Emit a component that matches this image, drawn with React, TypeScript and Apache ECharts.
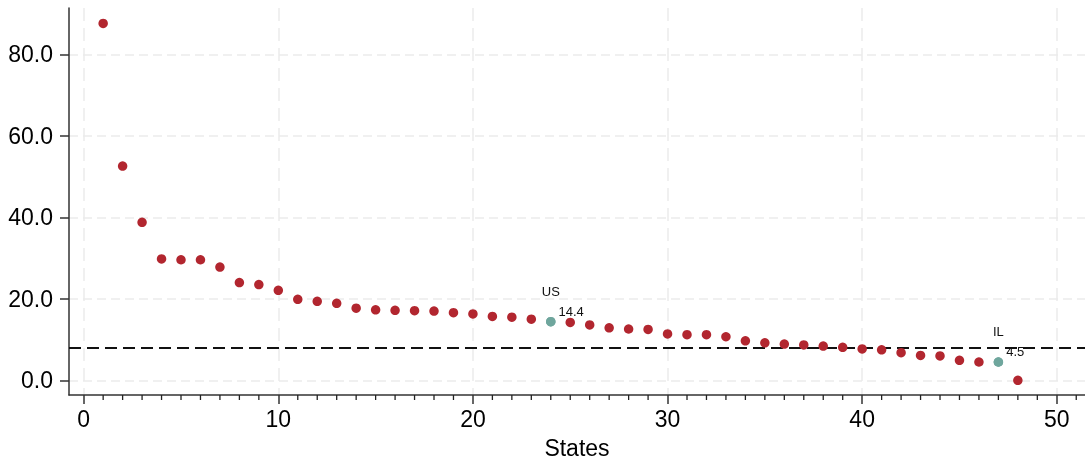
import React, { useEffect, useRef } from "react";
import * as echarts from "echarts";

// Values by state rank (1..48)
const rates: number[] = [
  87.6, 52.6, 38.8, 29.8, 29.6, 29.6, 27.8, 24.0, 23.5, 22.1,
  19.9, 19.4, 18.9, 17.7, 17.3, 17.2, 17.1, 17.0, 16.6, 16.3,
  15.7, 15.5, 15.0, 14.4, 14.2, 13.6, 12.9, 12.6, 12.5, 11.4,
  11.2, 11.2, 10.7, 9.7, 9.2, 8.9, 8.7, 8.4, 8.1, 7.7,
  7.5, 6.8, 6.1, 6.0, 4.9, 4.5, 4.5, 0.0,
];
const highlightRanks: number[] = [24, 47];
const highlightNames: string[] = ["US", "IL"];
const benchmark = 8.0;
const xTicks: number[] = [0, 10, 20, 30, 40, 50];
const yTicks: number[] = [0, 20, 40, 60, 80];
const xTitle = "States";

const RED = "#B2262F";
const TEAL = "#6FA69D";
const GRID = "#EBEBEB";
const AXIS = "#333333";
const FONT = "'Liberation Sans', Arial, sans-serif";

export default function App() {
  const ref = useRef<HTMLDivElement>(null);

  useEffect(() => {
    if (!ref.current) return;
    const chart = echarts.init(ref.current, undefined, { renderer: "svg" });

    const minorTicks: number[] = [];
    for (let i = 1; i <= 51; i++) if (i % 10 !== 0) minorTicks.push(i);

    const mainData = rates
      .map((v, i) => [i + 1, v])
      .filter((d) => !highlightRanks.includes(d[0] as number));
    const hlData = highlightRanks.map((r, k) => ({
      value: [r, rates[r - 1]],
      name: highlightNames[k],
    }));

    const xMin = -0.755;
    const xMax = 51.45;
    const yMin = -3.6;
    const yMax = 91.4;

    chart.setOption({
      animation: false,
      textStyle: { fontFamily: FONT },
      grid: {
        left: 69,
        right: 0,
        top: 8,
        bottom: 67,
        containLabel: false,
        outerBoundsMode: "none",
      },
      xAxis: {
        type: "value",
        min: xMin,
        max: xMax,
        name: xTitle,
        nameLocation: "middle",
        nameGap: 41,
        nameTextStyle: { fontSize: 23, color: "#000", fontFamily: FONT },
        axisLine: { show: true, onZero: false, lineStyle: { color: AXIS, width: 1.5 } },
        axisTick: {
          show: true,
          customValues: xTicks,
          length: 9,
          lineStyle: { color: AXIS, width: 1.5 },
        },
        axisLabel: {
          customValues: xTicks,
          fontSize: 23,
          color: "#000",
          margin: 12,
          fontFamily: FONT,
        },
        splitLine: {
          show: true,
          lineStyle: { color: GRID, width: 1.5, type: [13, 7] },
        },
      },
      yAxis: {
        type: "value",
        min: yMin,
        max: yMax,
        axisLine: { show: true, onZero: false, lineStyle: { color: AXIS, width: 1.5 } },
        axisTick: {
          show: true,
          customValues: yTicks,
          length: 9,
          lineStyle: { color: AXIS, width: 1.5 },
        },
        axisLabel: {
          customValues: yTicks,
          fontSize: 23,
          color: "#000",
          margin: 16,
          fontFamily: FONT,
          formatter: (v: number) => v.toFixed(1),
        },
        splitLine: {
          show: true,
          lineStyle: { color: GRID, width: 1.5, type: [9, 5] },
        },
      },
      series: [
        {
          type: "scatter",
          symbol: "circle",
          symbolSize: 9.5,
          itemStyle: { color: RED, opacity: 1 },
          data: mainData,
          markLine: {
            silent: true,
            symbol: "none",
            label: { show: false },
            lineStyle: { color: "#111", width: 2, type: [12, 6] },
            data: [{ yAxis: benchmark }],
            z: 1,
          },
        },
        {
          type: "scatter",
          symbol: "circle",
          symbolSize: 9.5,
          itemStyle: { color: TEAL, opacity: 1 },
          data: hlData,
          label: {
            show: true,
            position: [4.75, -25.5],
            align: "center",
            verticalAlign: "middle",
            fontSize: 13,
            color: "#111",
            fontFamily: FONT,
            formatter: (p: any) => p.name,
          },
        },
        {
          type: "scatter",
          symbol: "circle",
          symbolSize: 9.5,
          itemStyle: { color: TEAL, opacity: 1 },
          data: hlData,
          label: {
            show: true,
            position: [12.5, -5.5],
            align: "left",
            verticalAlign: "middle",
            fontSize: 13,
            color: "#111",
            fontFamily: FONT,
            formatter: (p: any) => (p.value[1] as number).toFixed(1),
          },
        },
      ],
    });

    // minor ticks on the x axis, placed through the axis scale
    const bottomPx = chart.convertToPixel({ gridIndex: 0 }, [0, yMin])[1];
    chart.setOption({
      graphic: minorTicks.map((t) => {
        const x = chart.convertToPixel({ gridIndex: 0 }, [t, yMin])[0];
        return {
          type: "line",
          silent: true,
          z: 100,
          shape: { x1: x, y1: bottomPx, x2: x, y2: bottomPx + 5 },
          style: { stroke: "#222", lineWidth: 1.3 },
        };
      }),
    });

    return () => chart.dispose();
  }, []);

  return (
    <div
      ref={ref}
      style={{ position: "fixed", left: 0, top: 0, width: 1085, height: 462 }}
    />
  );
}
